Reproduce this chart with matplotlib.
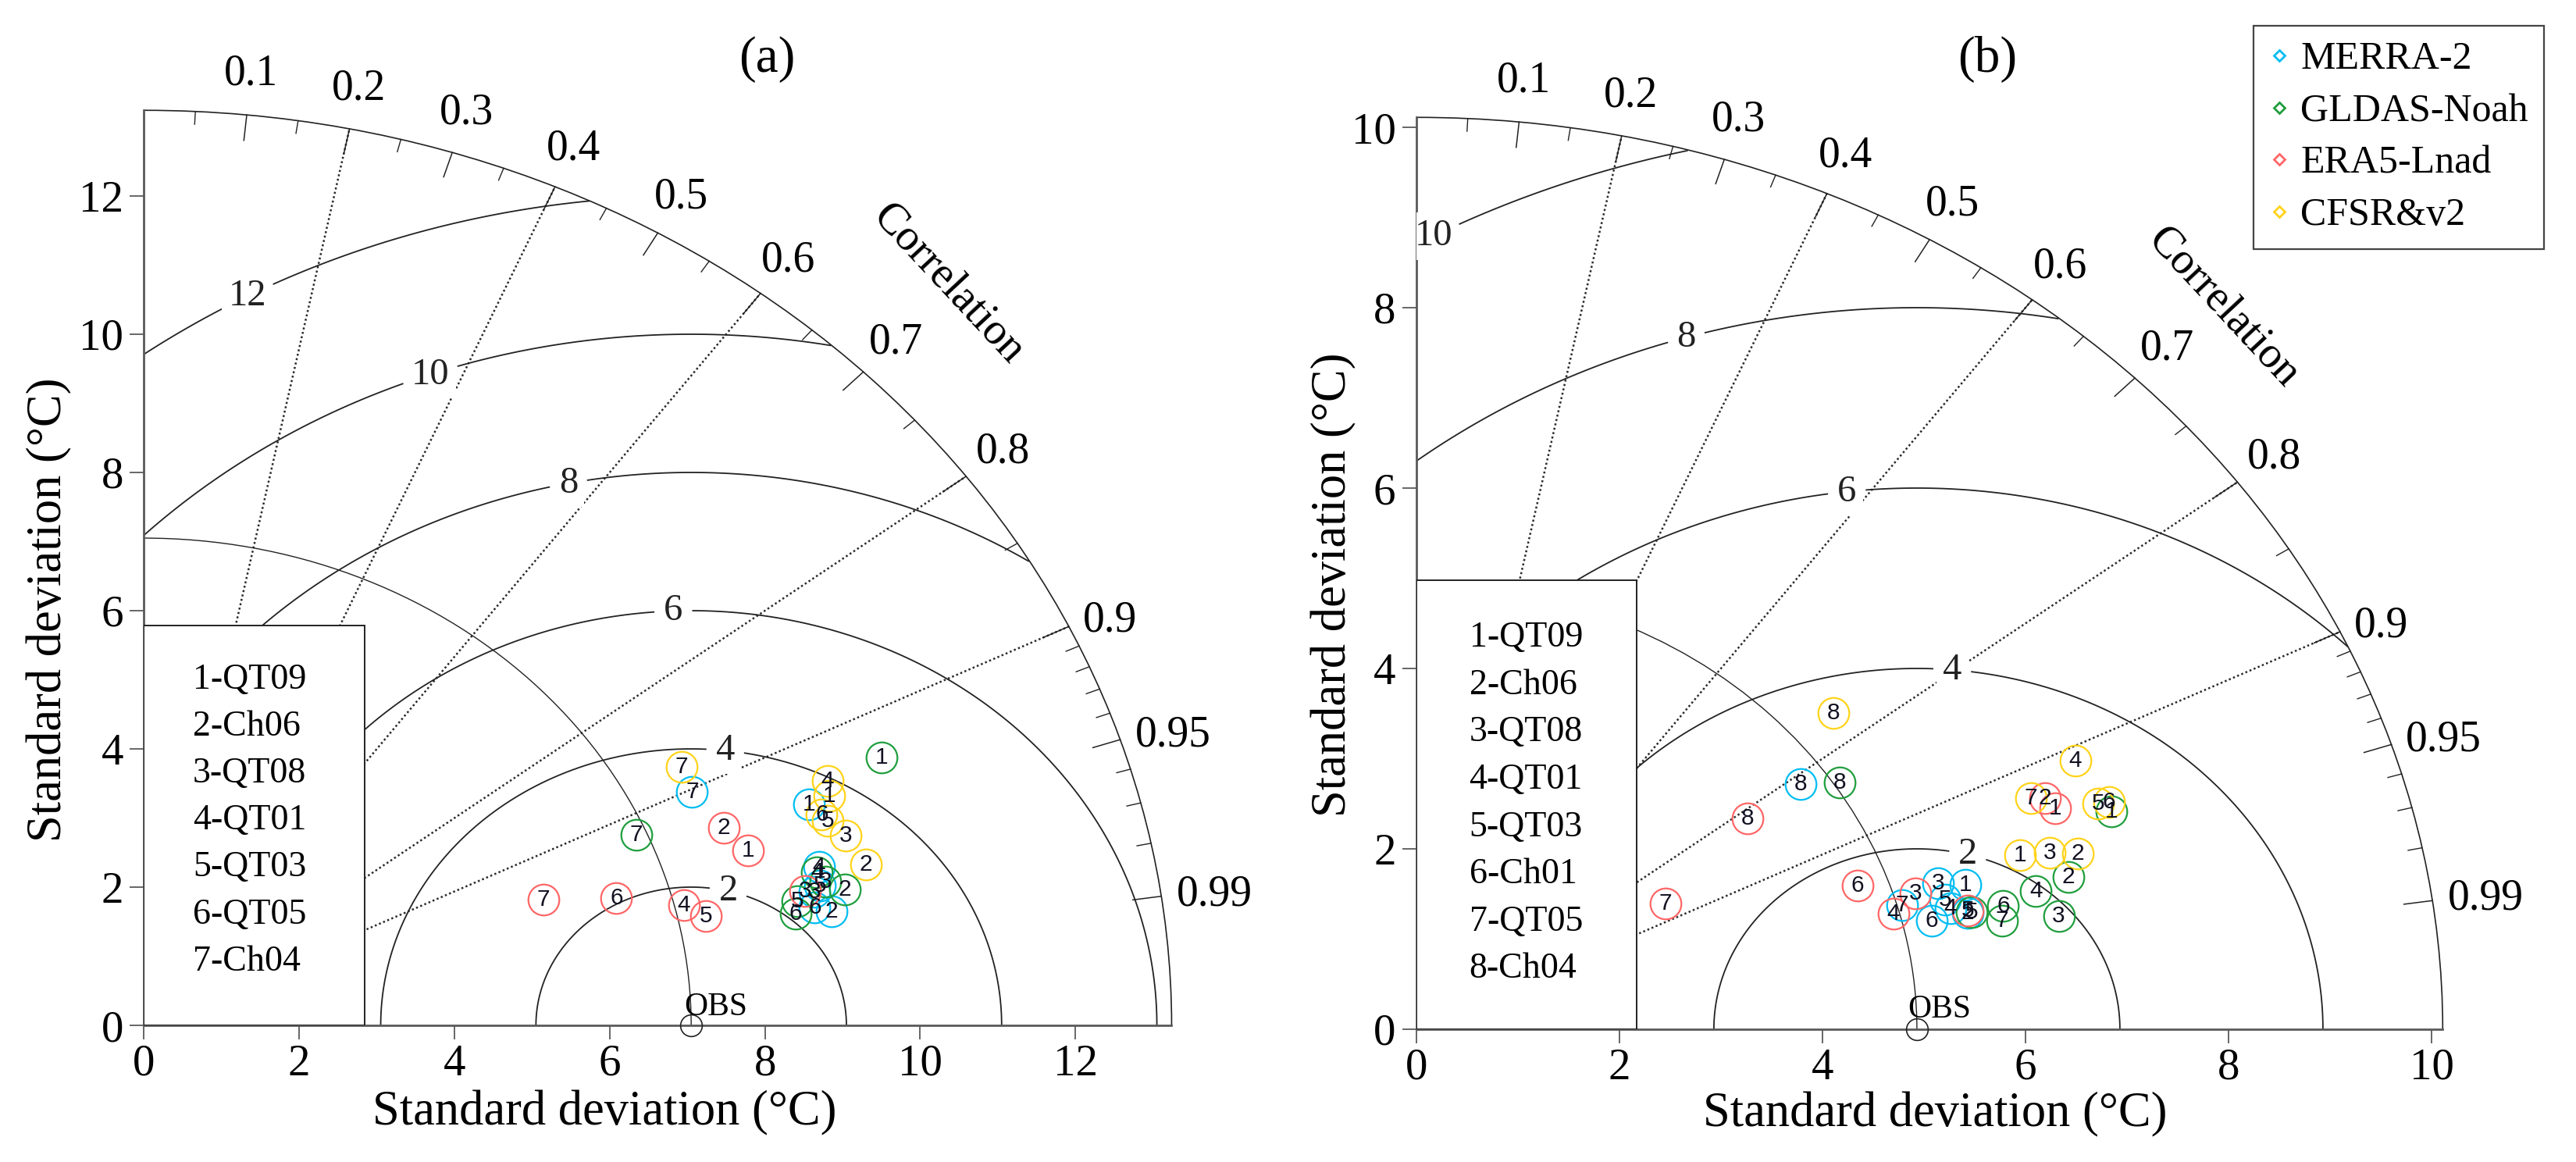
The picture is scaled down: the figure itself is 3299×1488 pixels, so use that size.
import numpy as np
import matplotlib.pyplot as plt
from matplotlib.patches import Arc, Rectangle
from matplotlib.lines import Line2D

plt.rcParams['font.family'] = ['Liberation Serif', 'DejaVu Serif']

FIG_W, FIG_H = 3299, 1488

products = ['MERRA-2', 'GLDAS-Noah', 'ERA5-Lnad', 'CFSR&v2']
colors = ['#00BDF2', '#1F9E3D', '#FF6666', '#FFD31A']

# ---- panel (a) data: standard deviation and correlation per station ----
stations_a = ['1-QT09', '2-Ch06', '3-QT08', '4-QT01', '5-QT03', '6-QT05', '7-Ch04']
obs_std_a = 7.05
std_a = {
    'MERRA-2':    [9.14, 9.01, 8.85, 8.99, 8.94, 8.81, 7.83],
    'GLDAS-Noah': [10.26, 9.24, 9.02, 8.95, 8.61, 8.55, 6.92],
    'ERA5-Lnad':  [8.18, 8.00, 8.74, 7.17, 7.41, 6.36, 5.46],
    'CFSR&v2':    [9.43, 9.59, 9.45, 9.49, 9.29, 9.25, 7.87],
}
corr_a = {
    'MERRA-2':    [0.937, 0.983, 0.976, 0.967, 0.974, 0.981, 0.902],
    'GLDAS-Noah': [0.926, 0.977, 0.973, 0.969, 0.978, 0.982, 0.917],
    'ERA5-Lnad':  [0.951, 0.934, 0.975, 0.970, 0.977, 0.957, 0.943],
    'CFSR&v2':    [0.936, 0.970, 0.957, 0.928, 0.948, 0.944, 0.880],
}

# ---- panel (b) data ----
stations_b = ['1-QT09', '2-Ch06', '3-QT08', '4-QT01', '5-QT03', '6-Ch01', '7-QT05', '8-Ch04']
obs_std_b = 4.93
std_b = {
    'MERRA-2':    [5.64, 5.58, 5.39, 5.43, 5.40, 5.22, 4.98, 4.66],
    'GLDAS-Noah': [7.26, 6.64, 6.45, 6.29, 5.62, 5.94, 5.89, 4.99],
    'ERA5-Lnad':  [6.75, 6.70, 5.14, 4.87, 5.59, 4.63, 2.82, 4.01],
    'CFSR&v2':    [6.25, 6.80, 6.54, 7.14, 7.17, 7.27, 6.57, 5.40],
}
corr_b = {
    'MERRA-2':    [0.959, 0.973, 0.954, 0.969, 0.964, 0.973, 0.961, 0.812],
    'GLDAS-Noah': [0.943, 0.967, 0.981, 0.970, 0.973, 0.973, 0.979, 0.836],
    'ERA5-Lnad':  [0.932, 0.924, 0.956, 0.965, 0.972, 0.939, 0.870, 0.813],
    'CFSR&v2':    [0.951, 0.958, 0.954, 0.909, 0.937, 0.938, 0.921, 0.761],
}

corr_labels = [0.1, 0.2, 0.3, 0.4, 0.5, 0.6, 0.7, 0.8, 0.9, 0.95, 0.99]
corr_minor = [0.05, 0.15, 0.25, 0.35, 0.45, 0.55, 0.65, 0.75, 0.85,
              0.91, 0.92, 0.93, 0.94, 0.96, 0.97, 0.98]
corr_lines = [0.2, 0.4, 0.6, 0.8, 0.9]


def px_box(x0, y0, sx, sy, lim):
    """axes rectangle (figure fraction) from data-origin pixel and px/unit"""
    return [x0 / FIG_W, (FIG_H - y0) / FIG_H, lim * sx / FIG_W, lim * sy / FIG_H]


def taylor_panel(ax, obs, rmax, lim, std, corr, stations, rms_levels,
                 rms_label_pos, box_w, box_h, st_x, st_y0, st_dy, corr_txt_pos):
    ax.set_xlim(0, lim)
    ax.set_ylim(0, lim)
    for s in ['top', 'right']:
        ax.spines[s].set_visible(False)
    for s in ['left', 'bottom']:
        ax.spines[s].set_color('#5a5a5a')
        ax.spines[s].set_linewidth(2.0)
        ax.spines[s].set_bounds(0, rmax)
    ticks = np.arange(0, rmax, 2)
    ax.set_xticks(ticks)
    ax.set_yticks(ticks)
    ax.set_xticklabels([f'{t:g}' for t in ticks])
    ax.set_yticklabels([f'{t:g}' for t in ticks])
    ax.tick_params(direction='out', length=13, width=1.3, color='#5a5a5a',
                   labelsize=41)
    ax.tick_params(axis='x', pad=4)
    ax.tick_params(axis='y', pad=6)

    # outer arc and reference std arc
    ax.add_patch(Arc((0, 0), 2 * rmax, 2 * rmax, theta1=0, theta2=90,
                     color='#222222', lw=1.2, zorder=2))
    ax.add_patch(Arc((0, 0), 2 * obs, 2 * obs, theta1=0, theta2=90,
                     color='#222222', lw=1.0, zorder=2))

    # correlation ticks, labels and dotted lines
    for c in corr_labels:
        th = np.arccos(c)
        ax.plot([rmax * c, rmax * 0.972 * c], [rmax * np.sin(th), rmax * 0.972 * np.sin(th)],
                color='#222222', lw=1.1, zorder=2)
        if np.degrees(th) < 30:
            r = rmax * 1.015
            ax.text(r * c, r * np.sin(th), f'{c:g}', fontsize=40, ha='left',
                    va='center', clip_on=False)
        else:
            r = rmax * 1.045
            ax.text(r * c, r * np.sin(th), f'{c:g}', fontsize=40, ha='center',
                    va='center', clip_on=False)
    for c in corr_minor:
        th = np.arccos(c)
        ax.plot([rmax * c, rmax * 0.986 * c], [rmax * np.sin(th), rmax * 0.986 * np.sin(th)],
                color='#222222', lw=1.0, zorder=2)
    for c in corr_lines:
        th = np.arccos(c)
        ax.plot([0, rmax * c], [0, rmax * np.sin(th)], color='#2a2a2a', lw=1.8,
                ls=(0, (1, 1.3)), zorder=1)
    ax.text(corr_txt_pos[0], corr_txt_pos[1], 'Correlation', fontsize=41,
            rotation=-47, ha='center', va='center', rotation_mode='anchor')

    # centred RMS difference contours
    g = np.linspace(0, rmax, 900)
    X, Y = np.meshgrid(g, g)
    rms = np.hypot(X - obs, Y)
    rms = np.ma.masked_where(np.hypot(X, Y) > rmax, rms)
    cs = ax.contour(X, Y, rms, levels=rms_levels, colors='#222222',
                    linewidths=1.3, zorder=2)
    lbls = ax.clabel(cs, fmt='%d', fontsize=35, inline=True, inline_spacing=12,
                     manual=rms_label_pos)
    for t in lbls:
        t.set_rotation(0)
        t.set_bbox(dict(facecolor='white', edgecolor='none', pad=6))
        t.set_zorder(3)

    # station legend box
    ax.add_patch(Rectangle((0, 0), box_w, box_h, facecolor='white',
                           edgecolor='#222222', lw=1.4, zorder=4))
    for i, s in enumerate(stations):
        ax.text(st_x, st_y0 - i * st_dy, s, fontsize=33, va='center', zorder=5)

    # reanalysis points
    for name, col in zip(products, colors):
        sd = np.array(std[name])
        rr = np.array(corr[name])
        xs = sd * rr
        ys = sd * np.sin(np.arccos(rr))
        ax.plot(xs, ys, 'o', mfc='none', mec=col, ms=28.5, mew=1.6, zorder=6)
        for k, (xx, yy) in enumerate(zip(xs, ys)):
            ax.text(xx, yy, str(k + 1), fontsize=21.5, ha='center', va='center',
                    family=['Liberation Sans', 'DejaVu Sans'], color='#111122',
                    zorder=7)

    # observation
    ax.plot(obs, 0, 'o', mfc='none', mec='#222222', ms=20, mew=1.2,
            clip_on=False, zorder=6)
    ax.text(obs - 0.09, 0.05, 'OBS', fontsize=30, ha='left', va='bottom', zorder=6)


fig = plt.figure(figsize=(FIG_W / 100, FIG_H / 100), dpi=100)

ax_a = fig.add_axes(px_box(184.4, 1313, 99.4, 88.5, 13.5))
taylor_panel(ax_a, obs_std_a, 13.24, 13.5, std_a, corr_a, stations_a,
             [2, 4, 6, 8, 10, 12],
             [(7.53, 1.95), (7.49, 3.98), (6.82, 5.99), (5.47, 7.83),
              (3.67, 9.48), (1.31, 10.6)],
             2.84, 5.79, 0.63, 5.0, 0.68, (10.36, 10.72))

ax_b = fig.add_axes(px_box(1814, 1318, 130, 115.5, 10.3))
taylor_panel(ax_b, obs_std_b, 10.11, 10.3, std_b, corr_b, stations_b,
             [2, 4, 6, 8, 10],
             [(5.43, 1.93), (5.28, 4.01), (4.24, 5.96), (2.66, 7.66), (0.12, 8.9)],
             2.17, 4.98, 0.52, 4.34, 0.525, (7.95, 8.0))

# axis labels and panel titles
fig.text(774 / FIG_W, 1 - 1425 / FIG_H, 'Standard deviation (°C)', fontsize=45,
         ha='center', va='center')
fig.text(2478 / FIG_W, 1 - 1427 / FIG_H, 'Standard deviation (°C)', fontsize=45,
         ha='center', va='center')
fig.text(63 / FIG_W, 1 - 781 / FIG_H, 'Standard deviation (°C)', fontsize=45,
         ha='center', va='center', rotation=90)
fig.text(1708 / FIG_W, 1 - 749 / FIG_H, 'Standard deviation (°C)', fontsize=45,
         ha='center', va='center', rotation=90)
fig.text(982 / FIG_W, 1 - 76 / FIG_H, '(a)', fontsize=47, ha='center', va='center')
fig.text(2545 / FIG_W, 1 - 76 / FIG_H, '(b)', fontsize=47, ha='center', va='center')

handles = [Line2D([], [], ls='none', marker='D', ms=7, mfc='none', mec=c, mew=2)
           for c in colors]
leg = fig.legend(handles, products, loc='upper right',
                 bbox_to_anchor=(3258 / FIG_W, 1 - 33 / FIG_H),
                 fontsize=36, frameon=True, fancybox=False, framealpha=1,
                 edgecolor='#444444', handlelength=0.5, handletextpad=0.3,
                 borderpad=0.4, labelspacing=0.4, borderaxespad=0)
leg.get_frame().set_linewidth(1.6)

fig.savefig('out.png', dpi=100)
